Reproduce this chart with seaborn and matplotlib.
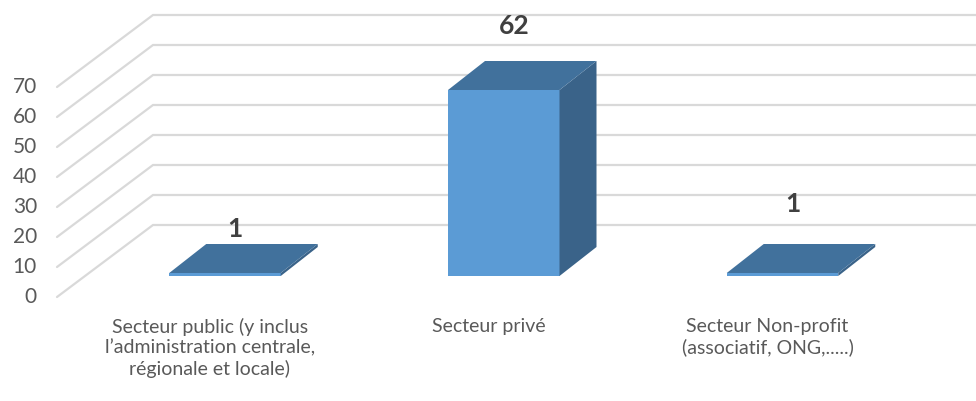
import matplotlib
matplotlib.use("Agg")
import matplotlib.pyplot as plt
from matplotlib.patches import Polygon
import seaborn as sns

# --- données ---
categories = [
    "Secteur public (y inclus\nl’administration centrale,\nrégionale et locale)",
    "Secteur privé",
    "Secteur Non-profit\n(associatif, ONG,.....)",
]
values = [1, 62, 1]
y_ticks = [0, 10, 20, 30, 40, 50, 60, 70]

# --- style ---
FRONT = "#5B9BD5"
TOP = "#41719C"
SIDE = "#3A6389"
GRID = "#D9D9D9"
TICK_COLOR = "#595959"
LABEL_COLOR = "#404040"

# mise en page (pixels de la figure 976x401)
PX_PER_CAT = 278.75      # écart entre deux barres
PX_PER_UNIT = 3.0        # pixels par unité de valeur
FIRST_BAR_PX = 225.0     # centre de la 1re barre
BASE_PX = 276.0          # base des barres (depuis le haut)
BAR_DEPTH = (37, 29)     # profondeur des barres (dx, dy) en px
WALL_FRONT_PX = (57, 297)   # bord avant du mur, valeur 0
WALL_BACK_PX = (153, 225)   # bord arrière du mur, valeur 0
LABEL_LIFT = [15, 35, 40]   # hauteur des étiquettes au-dessus du dessus


def cat_x(px):
    return (px - FIRST_BAR_PX) / PX_PER_CAT


def val_y(py):
    return (BASE_PX - py) / PX_PER_UNIT


sns.set_theme(style="white")
plt.rcParams["font.family"] = ["Lato", "DejaVu Sans"]

fig = plt.figure(figsize=(9.76, 4.01), dpi=100)
ax = fig.add_axes([0, 0, 1, 1])

sns.barplot(x=list(range(len(values))), y=values, width=0.4, color=FRONT,
            saturation=1, ax=ax, zorder=3, linewidth=0)

ax.set_xlim(cat_x(0), cat_x(976))
ax.set_ylim(val_y(401), val_y(0))
ax.axis("off")

# quadrillage en perspective (mur latéral + fond)
fx, bx = cat_x(WALL_FRONT_PX[0]), cat_x(WALL_BACK_PX[0])
f_off, b_off = val_y(WALL_FRONT_PX[1]), val_y(WALL_BACK_PX[1])
for v in y_ticks:
    ax.plot([fx, bx, cat_x(976)], [v + f_off, v + b_off, v + b_off],
            color=GRID, lw=1.6, zorder=1, solid_joinstyle="miter")
    ax.text(cat_x(37), v + f_off, str(v), ha="right", va="center",
            fontsize=15, color=TICK_COLOR)

# faces supérieures et latérales des barres
ddx = BAR_DEPTH[0] / PX_PER_CAT
ddy = BAR_DEPTH[1] / PX_PER_UNIT
for i, p in enumerate(ax.patches):
    x0, w, h = p.get_x(), p.get_width(), p.get_height()
    top = Polygon([(x0, h), (x0 + w, h), (x0 + w + ddx, h + ddy), (x0 + ddx, h + ddy)],
                  closed=True, facecolor=TOP, edgecolor="none", zorder=3)
    side = Polygon([(x0 + w, 0), (x0 + w + ddx, ddy), (x0 + w + ddx, h + ddy), (x0 + w, h)],
                   closed=True, facecolor=SIDE, edgecolor="none", zorder=3)
    ax.add_patch(side)
    ax.add_patch(top)
    ax.text(x0 + w / 2 + 10 / PX_PER_CAT, h + ddy + LABEL_LIFT[i] / PX_PER_UNIT,
            str(values[i]), ha="center", va="center", fontsize=19,
            fontweight="bold", color=LABEL_COLOR, zorder=4)

# étiquettes des catégories
for i, lab in enumerate(categories):
    ax.text(i - 15 / PX_PER_CAT, val_y(318), lab, ha="center", va="top",
            fontsize=14, color=TICK_COLOR, linespacing=1.22)

fig.savefig("out.png", dpi=100)
